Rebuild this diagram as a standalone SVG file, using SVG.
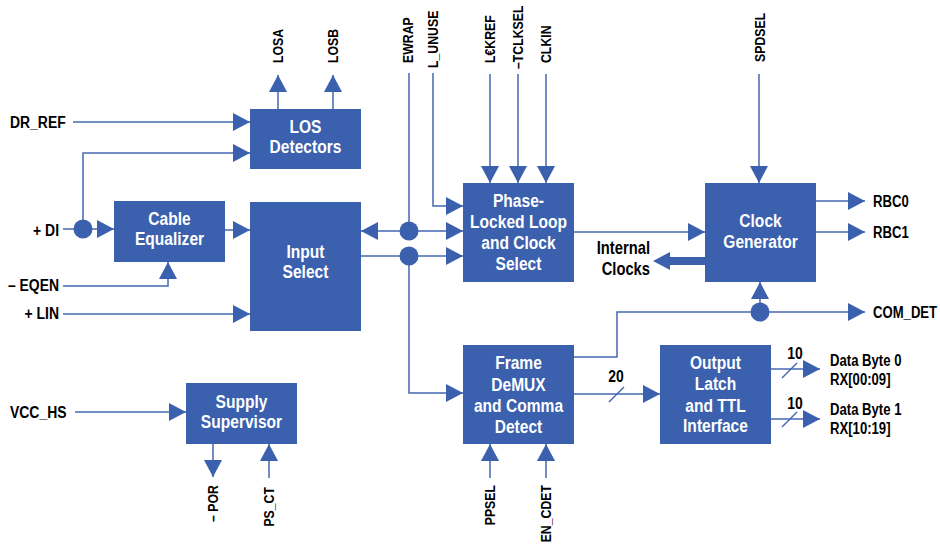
<svg xmlns="http://www.w3.org/2000/svg" width="940" height="549" viewBox="0 0 940 549">
<style>
.box{fill:#3A60AE}
.bt{fill:#fff;font-family:"Liberation Sans",Arial,sans-serif;font-weight:bold;font-size:19px;text-anchor:middle}
.lb{fill:#000;font-family:"Liberation Sans",Arial,sans-serif;font-weight:bold;font-size:16px}
.lg{font-size:17px}
.xl{font-size:18px}
.rl{fill:#000;font-family:"Liberation Sans",Arial,sans-serif;font-weight:bold;font-size:15px}
.ln{fill:none;stroke:#4468B2;stroke-width:1.5}
.ar{marker-end:url(#ah)}
.dot{fill:#3A60AE}
</style>
<defs>
<marker id="ah" markerUnits="userSpaceOnUse" markerWidth="17" markerHeight="18" refX="17" refY="9" orient="auto"><path d="M0,0 L17,9 L0,18 Z" fill="#3A60AE"/></marker>
</defs>
<rect width="940" height="549" fill="#fff"/>

<g id="connectors">
<path class="ln ar" d="M73,122 H250"/>
<path class="ln ar" d="M83,229 V153 H250"/>
<path class="ln ar" d="M63,229 H114"/>
<path class="ln ar" d="M225,230 H250"/>
<path class="ln ar" d="M63,286 H168 V262"/>
<path class="ln ar" d="M63,314 H250"/>
<path class="ln ar" d="M278,109 V75"/>
<path class="ln ar" d="M333,109 V75"/>
<path class="ln ar" d="M409,231 H361"/>
<path class="ln ar" d="M409,73 V231 H463"/>
<path class="ln ar" d="M433,73 V206 H463"/>
<path class="ln ar" d="M361,256 H463"/>
<path class="ln ar" d="M409,256 V393 H463"/>
<path class="ln ar" d="M490,74 V183"/>
<path class="ln ar" d="M518,74 V183"/>
<path class="ln ar" d="M546,74 V183"/>
<path class="ln ar" d="M759,74 V183"/>
<path class="ln ar" d="M574,232 H705"/>
<polygon points="653,261 670,252 670,257 705,257 705,265 670,265 670,270" fill="#3A60AE"/>
<path class="ln ar" d="M816,201 H865"/>
<path class="ln ar" d="M816,232 H865"/>
<path class="ln ar" d="M574,357 H617 V312 H865"/>
<path class="ln ar" d="M760,312 V282"/>
<path class="ln ar" d="M574,394 H660"/>
<path class="ln" d="M609,402 L624,387"/>
<path class="ln ar" d="M771,369 H820"/>
<path class="ln" d="M782,378 L797,363"/>
<path class="ln ar" d="M771,419 H820"/>
<path class="ln" d="M782,427 L797,412"/>
<path class="ln ar" d="M75,412 H186"/>
<path class="ln ar" d="M213,444 V477"/>
<path class="ln ar" d="M269,478 V444"/>
<path class="ln ar" d="M490,478 V444"/>
<path class="ln ar" d="M546,478 V444"/>
<circle class="dot" cx="83" cy="229" r="9.5"/>
<circle class="dot" cx="409" cy="231" r="9.5"/>
<circle class="dot" cx="409" cy="256" r="9.5"/>
<circle class="dot" cx="760" cy="312" r="9.5"/>
</g>

<g id="los">
<rect class="box" x="250" y="109" width="111" height="60"/>
<text class="bt" transform="translate(305.5,133) scale(0.82,1)">LOS</text>
<text class="bt" transform="translate(305.5,153) scale(0.82,1)">Detectors</text>
</g>
<g id="equalizer">
<rect class="box" x="114" y="201" width="111" height="61"/>
<text class="bt" transform="translate(169.5,225) scale(0.82,1)">Cable</text>
<text class="bt" transform="translate(169.5,245) scale(0.82,1)">Equalizer</text>
</g>
<g id="inputselect">
<rect class="box" x="250" y="202" width="111" height="129"/>
<text class="bt" transform="translate(305.5,258) scale(0.82,1)">Input</text>
<text class="bt" transform="translate(305.5,278) scale(0.82,1)">Select</text>
</g>
<g id="pll">
<rect class="box" x="463" y="183" width="111" height="99"/>
<text class="bt" transform="translate(518.5,207) scale(0.82,1)">Phase-</text>
<text class="bt" transform="translate(518.5,228) scale(0.82,1)">Locked Loop</text>
<text class="bt" transform="translate(518.5,249) scale(0.82,1)">and Clock</text>
<text class="bt" transform="translate(518.5,270) scale(0.82,1)">Select</text>
</g>
<g id="clockgen">
<rect class="box" x="705" y="183" width="111" height="99"/>
<text class="bt" transform="translate(760.5,227) scale(0.82,1)">Clock</text>
<text class="bt" transform="translate(760.5,248) scale(0.82,1)">Generator</text>
</g>
<g id="demux">
<rect class="box" x="463" y="345" width="111" height="99"/>
<text class="bt" transform="translate(518.5,369) scale(0.82,1)">Frame</text>
<text class="bt" transform="translate(518.5,391) scale(0.82,1)">DeMUX</text>
<text class="bt" transform="translate(518.5,412) scale(0.82,1)">and Comma</text>
<text class="bt" transform="translate(518.5,433) scale(0.82,1)">Detect</text>
</g>
<g id="outlatch">
<rect class="box" x="660" y="345" width="111" height="99"/>
<text class="bt" transform="translate(715.5,369) scale(0.82,1)">Output</text>
<text class="bt" transform="translate(715.5,390) scale(0.82,1)">Latch</text>
<text class="bt" transform="translate(715.5,412) scale(0.82,1)">and TTL</text>
<text class="bt" transform="translate(715.5,432) scale(0.82,1)">Interface</text>
</g>
<g id="supply">
<rect class="box" x="186" y="383" width="111" height="61"/>
<text class="bt" transform="translate(241.5,408) scale(0.82,1)">Supply</text>
<text class="bt" transform="translate(241.5,428) scale(0.82,1)">Supervisor</text>
</g>

<g id="labels">
<text class="lb lg" transform="translate(10,128) scale(0.82,1)">DR_REF</text>
<text class="lb lg" text-anchor="end" transform="translate(59,236) scale(0.82,1)">+ DI</text>
<text class="lb lg" text-anchor="end" transform="translate(59,291) scale(0.82,1)">– EQEN</text>
<text class="lb lg" text-anchor="end" transform="translate(59,319) scale(0.82,1)">+ LIN</text>
<text class="lb lg" transform="translate(10,418) scale(0.82,1)">VCC_HS</text>
<text class="lb" transform="translate(873,207) scale(0.82,1)">RBC0</text>
<text class="lb" transform="translate(873,238) scale(0.82,1)">RBC1</text>
<text class="lb" transform="translate(873,318) scale(0.82,1)">COM_DET</text>
<text class="lb xl" text-anchor="end" transform="translate(650,254) scale(0.82,1)">Internal</text>
<text class="lb xl" text-anchor="end" transform="translate(650,275) scale(0.82,1)">Clocks</text>
<text class="lb lg" text-anchor="middle" transform="translate(616,382) scale(0.82,1)">20</text>
<text class="lb lg" text-anchor="middle" transform="translate(795,359) scale(0.82,1)">10</text>
<text class="lb lg" text-anchor="middle" transform="translate(795,409) scale(0.82,1)">10</text>
<text class="lb" transform="translate(830,366) scale(0.82,1)">Data Byte 0</text>
<text class="lb" transform="translate(830,385) scale(0.82,1)">RX[00:09]</text>
<text class="lb" transform="translate(830,415) scale(0.82,1)">Data Byte 1</text>
<text class="lb" transform="translate(830,434) scale(0.82,1)">RX[10:19]</text>
<text class="rl" transform="translate(283,63) rotate(-90) scale(0.82,1)">LOSA</text>
<text class="rl" transform="translate(338,63) rotate(-90) scale(0.82,1)">LOSB</text>
<text class="rl" transform="translate(413,63) rotate(-90) scale(0.82,1)">EWRAP</text>
<text class="rl" transform="translate(438,68) rotate(-90) scale(0.82,1)">L_UNUSE</text>
<text class="rl" transform="translate(495,63) rotate(-90) scale(0.82,1)">L€KREF</text>
<text class="rl" transform="translate(523,69) rotate(-90) scale(0.82,1)">–TCLKSEL</text>
<text class="rl" transform="translate(551,63) rotate(-90) scale(0.82,1)">CLKIN</text>
<text class="rl" transform="translate(765,62) rotate(-90) scale(0.82,1)">SPDSEL</text>
<text class="rl" text-anchor="end" transform="translate(218,485) rotate(-90) scale(0.82,1)">– POR</text>
<text class="rl" text-anchor="end" transform="translate(274,487) rotate(-90) scale(0.82,1)">PS_CT</text>
<text class="rl" text-anchor="end" transform="translate(495,485) rotate(-90) scale(0.82,1)">PPSEL</text>
<text class="rl" text-anchor="end" transform="translate(551,485) rotate(-90) scale(0.82,1)">EN_CDET</text>
</g>
</svg>
